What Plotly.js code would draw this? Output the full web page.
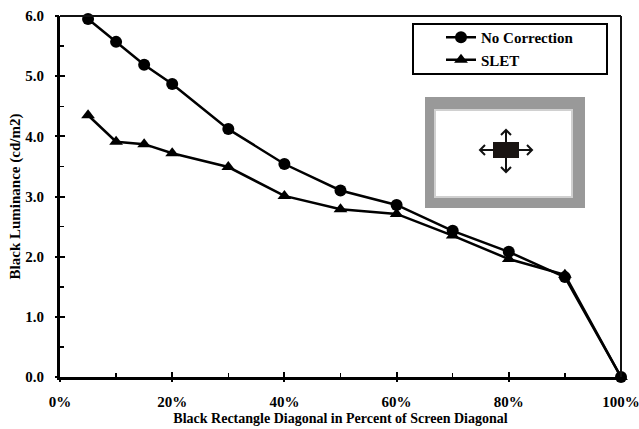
<!DOCTYPE html>
<html>
<head>
<meta charset="utf-8">
<script src="https://cdn.plot.ly/plotly-3.0.1.min.js"></script>
<style>html,body{margin:0;padding:0;background:#fff;}#chart{width:639px;height:429px;}</style>
</head>
<body>
<div id="chart"></div>
<script>
// ---- data ----
const diagonalPct = [5, 10, 15, 20, 30, 40, 50, 60, 70, 80, 90, 100];
const noCorrection = [5.95, 5.57, 5.19, 4.87, 4.12, 3.54, 3.10, 2.86, 2.43, 2.08, 1.66, 0.0];
const slet = [4.35, 3.91, 3.87, 3.72, 3.49, 3.01, 2.79, 2.71, 2.35, 1.96, 1.70, 0.0];
const seriesNames = ["No Correction", "SLET"];

// ---- layout helpers (pixel -> paper) ----
const W = 639, H = 429, ML = 60, MR = 18, MT = 16, MB = 52;
const PW = W - ML - MR, PH = H - MT - MB;
const X = px => (px - ML) / PW;
const Y = py => (H - MB - py) / PH;
function path(pts) {
  return pts.map((p, i) => (i ? 'L' : 'M') + X(p[0]).toFixed(5) + ',' + Y(p[1]).toFixed(5)).join(' ');
}
function rect(x0, y0, x1, y1, fill, line) {
  return {type: 'rect', xref: 'paper', yref: 'paper', x0: X(x0), x1: X(x1), y0: Y(y1), y1: Y(y0),
          fillcolor: fill, line: line || {width: 0}, layer: 'above'};
}
function pline(pts, w) {
  return {type: 'path', xref: 'paper', yref: 'paper', path: path(pts),
          line: {color: '#111', width: w || 2}, layer: 'above'};
}

const font = 'Liberation Serif, Times New Roman, serif';
const traces = [
  {x: diagonalPct, y: noCorrection, name: seriesNames[0], type: 'scatter', mode: 'lines+markers',
   line: {color: '#000', width: 2.5}, marker: {symbol: 'circle', size: 12, color: '#000'}, cliponaxis: false},
  {x: diagonalPct, y: slet, name: seriesNames[1], type: 'scatter', mode: 'lines+markers',
   line: {color: '#000', width: 2.5}, marker: {symbol: 'triangle-up', size: 12, color: '#000'}, cliponaxis: false},
  {x: [null], y: [null], xaxis: 'x2', yaxis: 'y2', showlegend: false, hoverinfo: 'skip', type: 'scatter', mode: 'markers'}
];

const shapes = [
  // top and right frame lines
  pline([[ML, MT], [W - MR, MT]], 2),
  pline([[W - MR, MT], [W - MR, H - MB]], 2),
  // legend box
  {type: 'rect', xref: 'paper', yref: 'paper', x0: X(413), x1: X(607), y0: Y(74), y1: Y(24),
   line: {color: '#000', width: 2}, fillcolor: 'rgba(0,0,0,0)', layer: 'above'},
  // inset picture
  rect(425, 97, 585, 208, '#999999'),
  rect(434, 109, 573, 198, '#d0d0d0'),
  rect(436, 111, 571, 196, '#ffffff'),
  rect(493, 142, 519, 158, '#1a1513'),
  pline([[506, 142], [506, 130]]), pline([[501, 135], [506, 130], [511, 135]]),
  pline([[506, 158], [506, 172]]), pline([[501, 167], [506, 172], [511, 167]]),
  pline([[493, 150], [480, 150]]), pline([[485, 145], [480, 150], [485, 155]]),
  pline([[519, 150], [532, 150]]), pline([[527, 145], [532, 150], [527, 155]])
];

const tickFont = {family: font, size: 15, color: '#000', weight: 'bold'};
const layout = {
  width: W, height: H,
  margin: {l: ML, r: MR, t: MT, b: MB},
  paper_bgcolor: '#fff', plot_bgcolor: '#fff',
  showlegend: true,
  legend: {x: X(441), y: Y(21), xanchor: 'left', yanchor: 'top', bgcolor: 'rgba(0,0,0,0)',
           borderwidth: 0, font: {family: font, size: 15, color: '#000', weight: 'bold'}},
  xaxis: {range: [0, 100], dtick: 20, tick0: 0, ticksuffix: '%', showgrid: false, zeroline: false,
          showline: true, linewidth: 3, linecolor: '#000', ticks: 'inside', ticklen: 5, tickwidth: 2,
          tickcolor: '#000', ticklabelstandoff: 9, ticklabeloverflow: 'allow',
          minor: {dtick: 10, ticks: 'inside', ticklen: 4, tickwidth: 1.5, tickcolor: '#000', showgrid: false},
          tickfont: tickFont,
          title: {text: 'Black Rectangle Diagonal in Percent of Screen Diagonal', standoff: 5,
                  font: {family: font, size: 14, color: '#000', weight: 'bold'}}},
  yaxis: {range: [0, 6], dtick: 1, tick0: 0, tickformat: '.1f', showgrid: false, zeroline: false,
          showline: true, linewidth: 3, linecolor: '#000', ticks: 'inside', ticklen: 5, tickwidth: 2,
          tickcolor: '#000', ticklabelstandoff: 10, ticklabeloverflow: 'allow',
          minor: {dtick: 0.5, ticks: 'inside', ticklen: 4, tickwidth: 1.5, tickcolor: '#000', showgrid: false},
          tickfont: tickFont,
          title: {text: 'Black Luminance (cd/m2)', standoff: 2,
                  font: {family: font, size: 15, color: '#000', weight: 'bold'}}},
  xaxis2: {overlaying: 'x', anchor: 'y2', range: [0, 100], dtick: 20, tick0: 0, showticklabels: false,
           showgrid: false, zeroline: false, showline: false, ticks: 'outside', ticklen: 4, tickwidth: 2, tickcolor: '#000'},
  yaxis2: {overlaying: 'y', anchor: 'x2', range: [0, 6], dtick: 1, tick0: 0, showticklabels: false,
           showgrid: false, zeroline: false, showline: false, ticks: 'outside', ticklen: 4, tickwidth: 2, tickcolor: '#000'},
  shapes: shapes
};

Plotly.newPlot('chart', traces, layout, {staticPlot: true, displayModeBar: false});
</script>
</body>
</html>
